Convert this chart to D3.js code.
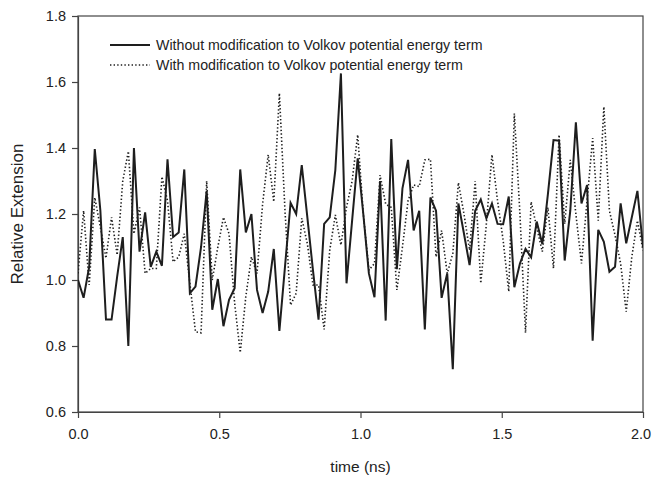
<!DOCTYPE html>
<html>
<head>
<meta charset="utf-8">
<script src="https://cdn.jsdelivr.net/npm/d3@7"></script>
<style>
  body { margin: 0; background: #fff; }
  text { font-family: "Liberation Sans", Arial, sans-serif; fill: #222; }
</style>
</head>
<body>
<div id="canvasRoot"></div>
<script>
// sampling interval of the trajectory (ns)
const dt = 2 / 101;

// relative extension, without modification to the Volkov term
const withoutMod = [
  1.00, 0.946, 1.04, 1.397, 1.21, 0.88, 0.88, 1.01, 1.13, 0.80,
  1.40, 1.086, 1.205, 1.04, 1.086, 1.043, 1.366, 1.13, 1.144, 1.335,
  0.96, 0.98, 1.10, 1.27, 0.91, 1.003, 0.86, 0.94, 0.975, 1.335,
  1.144, 1.20, 0.97, 0.90, 0.965, 1.094, 0.846, 1.04, 1.234, 1.20,
  1.348, 1.19, 1.03, 0.88, 1.17, 1.19, 1.333, 1.626, 0.99, 1.18,
  1.369, 1.20, 1.02, 0.948, 1.30, 0.877, 1.427, 1.033, 1.278, 1.364,
  1.15, 1.21, 0.85, 1.25, 1.21, 0.946, 1.02, 0.73, 1.232, 1.14,
  1.045, 1.21, 1.244, 1.187, 1.232, 1.17, 1.169, 1.253, 0.978, 1.05,
  1.094, 1.069, 1.177, 1.109, 1.26, 1.424, 1.422, 1.059, 1.21, 1.478,
  1.232, 1.288, 0.816, 1.152, 1.116, 1.025, 1.04, 1.232, 1.111, 1.19,
  1.27, 1.10
];

// relative extension, with modification to the Volkov term
const withMod = [
  1.02, 1.21, 0.985, 1.25, 1.16, 1.066, 1.19, 1.076, 1.30, 1.39,
  1.14, 1.22, 1.02, 1.035, 1.035, 1.313, 1.24, 1.055, 1.07, 1.14,
  0.99, 0.843, 0.84, 1.30, 1.00, 1.10, 1.19, 1.14, 0.93, 0.78,
  0.95, 1.07, 1.02, 1.23, 1.38, 1.237, 1.566, 1.21, 0.924, 0.96,
  1.187, 1.11, 0.985, 0.985, 0.85, 1.09, 1.197, 1.106, 1.22, 1.30,
  1.44, 1.20, 1.03, 1.05, 1.318, 1.23, 1.22, 0.97, 1.10, 1.24,
  1.288, 1.283, 1.364, 1.366, 1.07, 1.15, 1.02, 1.08, 1.295, 1.20,
  1.09, 1.30, 0.99, 1.17, 1.38, 1.24, 1.12, 0.965, 1.505, 1.20,
  0.84, 1.237, 1.16, 1.086, 1.22, 1.035, 1.44, 1.17, 1.364, 1.20,
  1.05, 1.24, 1.43, 1.18, 1.525, 1.21, 1.136, 1.05, 0.904, 1.07,
  1.18, 1.09
];

const xTicks = [0, 0.5, 1.0, 1.5, 2.0];
const yTicks = [0.6, 0.8, 1.0, 1.2, 1.4, 1.6, 1.8];
const legendLabels = [
  "Without modification to Volkov potential energy term",
  "With modification to Volkov potential energy term"
];

const W = 652, H = 477;
const margin = {left: 78, right: 9, top: 16, bottom: 65};

const svg = d3.select("#canvasRoot")
  .append("svg")
  .attr("width", W)
  .attr("height", H);

const x = d3.scaleLinear()
  .domain([0, 2])
  .range([margin.left, W - margin.right]);
const y = d3.scaleLinear()
  .domain([0.6, 1.8])
  .range([H - margin.bottom, margin.top]);

svg.append("clipPath")
  .attr("id", "plotClip")
  .append("rect")
  .attr("x", x(0)).attr("y", y(1.8))
  .attr("width", x(2) - x(0)).attr("height", y(0.6) - y(1.8));

//Frame
svg.append("rect")
  .attr("x", x(0)).attr("y", y(1.8))
  .attr("width", x(2) - x(0)).attr("height", y(0.6) - y(1.8))
  .attr("fill", "none")
  .attr("stroke", "#444")
  .attr("stroke-width", 1.2);

//Axes
let xAxis = svg.append("g")
  .attr("transform", `translate(0, ${y(0.6)})`)
  .call(d3.axisBottom(x).tickValues(xTicks).tickFormat(d3.format(".1f")).tickSize(6).tickSizeOuter(0).tickPadding(11));
let yAxis = svg.append("g")
  .attr("transform", `translate(${x(0)}, 0)`)
  .call(d3.axisLeft(y).tickValues(yTicks).tickFormat(d3.format(".1f")).tickSize(6).tickSizeOuter(0).tickPadding(6));

[xAxis, yAxis].forEach(ax => {
  ax.select(".domain").attr("stroke", "#444").attr("stroke-width", 1.2);
  ax.selectAll(".tick line").attr("stroke", "#444").attr("stroke-width", 1.2);
  ax.selectAll(".tick text")
    .style("font-family", "'Liberation Sans', Arial, sans-serif")
    .style("font-size", "14.5px")
    .attr("fill", "#222");
});
//last label sits at the page edge, nudge it in
xAxis.selectAll(".tick text")
  .filter(d => d === 2)
  .attr("dx", -2.5);

//Axis titles
svg.append("text")
  .attr("x", (x(0) + x(2)) / 2)
  .attr("y", 472)
  .attr("text-anchor", "middle")
  .style("font-size", "15.5px")
  .text("time (ns)");
svg.append("text")
  .attr("transform", `translate(23, ${(y(0.6) + y(1.8)) / 2}) rotate(-90)`)
  .attr("text-anchor", "middle")
  .style("font-size", "17px")
  .text("Relative Extension");

//Series
const line = d3.line()
  .x((_, i) => x(i * dt))
  .y(d => y(d));

const styles = [
  {data: withoutMod, width: 2, dash: null},
  {data: withMod, width: 1.6, dash: "1.4,2.2"}
];

let lineG = svg.append("g").attr("clip-path", "url(#plotClip)");
styles.slice().reverse().forEach(s => {
  lineG.append("path")
    .datum(s.data)
    .attr("d", line)
    .attr("fill", "none")
    .attr("stroke", "#1e1e1e")
    .attr("stroke-width", s.width)
    .attr("stroke-linejoin", "miter")
    .attr("stroke-dasharray", s.dash);
});

//Legend
let legend = svg.append("g");
legendLabels.forEach((lab, i) => {
  let ly = 45 + i * 20;
  legend.append("line")
    .attr("x1", 110).attr("x2", 150)
    .attr("y1", ly).attr("y2", ly)
    .attr("stroke", "#1e1e1e")
    .attr("stroke-width", styles[i].width)
    .attr("stroke-dasharray", styles[i].dash);
  legend.append("text")
    .attr("x", 156)
    .attr("y", ly + 5)
    .style("font-size", "14.2px")
    .text(lab);
});
</script>
</body>
</html>
